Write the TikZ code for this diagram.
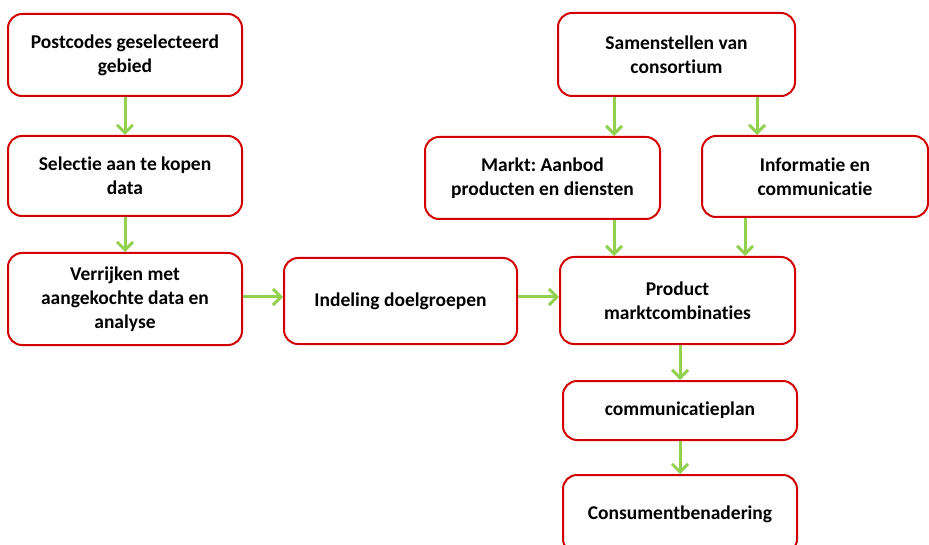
\documentclass[tikz,border=0pt]{standalone}
\usepackage{fontspec}
\setmainfont{Carlito}[Ligatures=NoCommon]
\frenchspacing
\usetikzlibrary{arrows.meta}
\definecolor{boxred}{RGB}{210,0,0}
\definecolor{arrgreen}{RGB}{146,208,80}
\tikzset{
  box/.style={draw=boxred, line width=2pt, rounded corners=14pt, fill=white,
    align=center, font=\fontsize{19.5}{24}\selectfont\bfseries, inner sep=0pt},
  flow/.style={draw=arrgreen, line width=3pt, -{Straight Barb[length=8pt,width=16pt,line width=3pt]}}
}
\begin{document}
\begin{tikzpicture}[x=1pt,y=-1pt]
\useasboundingbox (0,0) rectangle (929,545);
\clip (0,0) rectangle (929,545);
\node[box, minimum width=234pt, minimum height=82pt] (a) at (125,55) {Postcodes geselecteerd\\gebied};
\node[box, minimum width=234pt, minimum height=80pt] (b) at (125,176) {Selectie aan te kopen\\data};
\node[box, minimum width=234pt, minimum height=92pt] (c) at (125,299) {Verrijken met\\aangekochte data en\\analyse};
\node[box, minimum width=233pt, minimum height=86pt] (d) at (400.5,301) {Indeling doelgroepen};
\node[box, minimum width=237pt, minimum height=83pt] (e) at (676.5,54.5) {Samenstellen van\\consortium};
\node[box, minimum width=235pt, minimum height=82pt] (f) at (542.5,178) {Markt: Aanbod\\producten en diensten};
\node[box, minimum width=226pt, minimum height=81pt] (g) at (815,176.5) {Informatie en\\communicatie};
\node[box, minimum width=235pt, minimum height=87pt] (h) at (677.5,300.5) {Product\\marktcombinaties};
\node[box, minimum width=234pt, minimum height=59pt] (i) at (680,410.5) {communicatieplan};
\node[box, minimum width=234pt, minimum height=78pt] (j) at (680,514) {Consumentbenadering};
\draw[flow] (a.south) -- (b.north);
\draw[flow] (b.south) -- (c.north);
\draw[flow] (c.east |- 0,297) -- (d.west |- 0,297);
\draw[flow] (d.east |- 0,297) -- (h.west |- 0,297);
\draw[flow] (e.south -| 614,0) -- (f.north -| 614,0);
\draw[flow] (e.south -| 757,0) -- (g.north -| 757,0);
\draw[flow] (f.south -| 614,0) -- (h.north -| 614,0);
\draw[flow] (g.south -| 745,0) -- (h.north -| 745,0);
\draw[flow] (h.south -| 680,0) -- (i.north -| 680,0);
\draw[flow] (i.south) -- (j.north);
\end{tikzpicture}
\end{document}
